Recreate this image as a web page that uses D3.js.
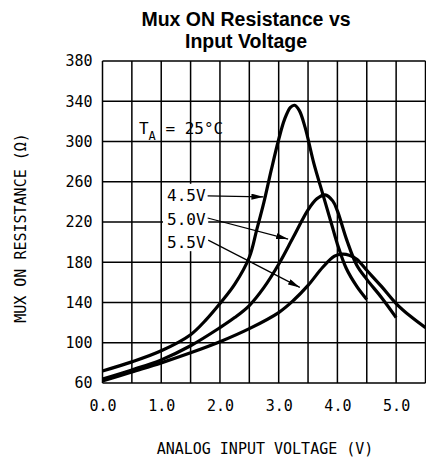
<!DOCTYPE html>
<html>
<head>
<meta charset="utf-8">
<script src="https://cdn.jsdelivr.net/npm/d3@7"></script>
<style>
  html, body { margin: 0; padding: 0; background: #fff; }
  svg { display: block; }
  .lbl { font-family: "DejaVu Sans Mono", monospace; font-size: 15px; fill: #000; }
  .title { font-family: "Liberation Sans", Arial, sans-serif; font-weight: bold; font-size: 19.5px; fill: #000; }
</style>
</head>
<body>
<svg id="chart" width="426" height="460"></svg>
<script>
// ---- data ----
const xTicks = [0, 1, 2, 3, 4, 5];
const xTickLabels = ["0.0", "1.0", "2.0", "3.0", "4.0", "5.0"];
const xGrid = [0, 0.5, 1, 1.5, 2, 2.5, 3, 3.5, 4, 4.5, 5, 5.5];
const yTicks = [60, 100, 140, 180, 220, 260, 300, 340, 380];

const volts45 = [0, 0.5, 1.0, 1.5, 1.75, 2.0, 2.25, 2.5, 2.625, 2.75, 2.875, 3.0, 3.1, 3.2, 3.27, 3.35, 3.45, 3.6, 3.75, 3.9, 4.0, 4.15, 4.33, 4.5];
const ohms45  = [72, 81, 92, 108, 122, 139, 158, 185, 212, 240, 272, 302, 322, 334, 336, 331, 314, 278, 248, 218, 198, 174, 156, 143];

const volts50 = [0, 0.5, 1.0, 1.5, 2.0, 2.25, 2.5, 2.75, 3.0, 3.25, 3.5, 3.65, 3.79, 3.92, 4.0, 4.16, 4.33, 4.5, 4.75, 5.0];
const ohms50  = [64, 73, 83, 97, 115, 125, 137, 155, 178, 205, 232, 243, 247, 241, 231, 202, 177, 163, 145, 125];

const volts55 = [0, 0.5, 1.0, 1.5, 2.0, 2.5, 3.0, 3.25, 3.5, 3.75, 3.95, 4.08, 4.2, 4.33, 4.5, 4.75, 5.0, 5.25, 5.5];
const ohms55  = [62, 71, 80, 90, 101, 114, 130, 142, 157, 175, 186, 188, 187, 183, 172, 156, 139, 126, 115];

const seriesNames = ["4.5V", "5.0V", "5.5V"];
// label anchor (volts, ohms at baseline) and arrow from -> to, in data units
const labelPos   = [[1.10, 240.5], [1.10, 217], [1.10, 194.5]];
const arrowFrom  = [[1.79, 246], [1.79, 224], [1.80, 202]];
const arrowTo    = [[2.74, 245], [3.16, 203], [3.36, 155]];

const title = ["Mux ON Resistance vs", "Input Voltage"];
const xTitle = "ANALOG INPUT VOLTAGE (V)";
const yTitle = "MUX ON RESISTANCE (\u03A9)";

// ---- scales ----
const svg = d3.select("#chart");
const x = d3.scaleLinear().domain([0, 5.5]).range([102.5, 425.5]);
const y = d3.scaleLinear().domain([60, 380]).range([383, 61]);

// title
svg.append("text").attr("class", "title").attr("text-anchor", "middle")
  .attr("x", 246).attr("y", 25.5).text(title[0]);
svg.append("text").attr("class", "title").attr("text-anchor", "middle")
  .attr("x", 246).attr("y", 47.5).text(title[1]);

// grid
const g = svg.append("g");
g.selectAll("line.v").data(xGrid).enter().append("line")
  .attr("x1", d => x(d)).attr("x2", d => x(d))
  .attr("y1", y(380)).attr("y2", y(60))
  .attr("stroke", "#000").attr("stroke-width", 1.5);
g.selectAll("line.h").data(yTicks).enter().append("line")
  .attr("x1", x(0)).attr("x2", x(5.5))
  .attr("y1", d => y(d)).attr("y2", d => y(d))
  .attr("stroke", "#000").attr("stroke-width", 1.5);

// white box behind series labels
svg.append("rect")
  .attr("x", x(1.03)).attr("y", y(258))
  .attr("width", x(1.80) - x(1.03)).attr("height", y(193) - y(258) + 2)
  .attr("fill", "#fff");

// axes tick labels
const yAxis = d3.axisLeft(y).tickValues(yTicks).tickSize(0).tickPadding(10);
svg.append("g").attr("transform", `translate(${x(0)},0)`).call(yAxis)
  .call(s => s.select(".domain").remove())
  .selectAll("text").attr("class", "lbl").attr("font-family", null).attr("font-size", null);

const xAxis = d3.axisBottom(x).tickValues(xTicks).tickFormat((d, i) => xTickLabels[i]).tickSize(0).tickPadding(17);
svg.append("g").attr("transform", `translate(0,${y(60)})`).call(xAxis)
  .call(s => s.select(".domain").remove())
  .selectAll("text").attr("class", "lbl").attr("font-family", null).attr("font-size", null);

// axis titles
svg.append("text").attr("class", "lbl").attr("text-anchor", "middle")
  .attr("x", 265).attr("y", 454).text(xTitle);
svg.append("text").attr("class", "lbl").attr("text-anchor", "middle")
  .attr("transform", "translate(26,228) rotate(-90)").text(yTitle);

// curves
const line = d3.line().x(d => x(d[0])).y(d => y(d[1])).curve(d3.curveCatmullRom.alpha(0.5));
const series = [
  d3.zip(volts45, ohms45),
  d3.zip(volts50, ohms50),
  d3.zip(volts55, ohms55)
];
svg.selectAll("path.curve").data(series).enter().append("path")
  .attr("d", line).attr("fill", "none").attr("stroke", "#000")
  .attr("stroke-width", 3.2).attr("stroke-linejoin", "round").attr("stroke-linecap", "butt");

// T_A label
const ta = svg.append("text").attr("class", "lbl").attr("x", x(0.62)).attr("y", y(307)).style("font-size", "16px");
ta.append("tspan").text("T");
ta.append("tspan").attr("dy", 6).style("font-size", "12px").text("A");
ta.append("tspan").attr("dy", -6).text(" = 25\u00B0C");

// series labels
svg.selectAll("text.sl").data(seriesNames).enter().append("text")
  .attr("class", "lbl").style("font-size", "16px")
  .attr("x", (d, i) => x(labelPos[i][0])).attr("y", (d, i) => y(labelPos[i][1]))
  .text(d => d);

// arrows
svg.append("defs").append("marker").attr("id", "ah")
  .attr("viewBox", "0 0 12 6").attr("refX", 12).attr("refY", 3)
  .attr("markerWidth", 12).attr("markerHeight", 6).attr("markerUnits", "userSpaceOnUse")
  .attr("orient", "auto")
  .append("path").attr("d", "M0,0 L12,3 L0,6 Z").attr("fill", "#000");
svg.selectAll("line.arr").data(arrowFrom).enter().append("line")
  .attr("x1", d => x(d[0])).attr("y1", d => y(d[1]))
  .attr("x2", (d, i) => x(arrowTo[i][0])).attr("y2", (d, i) => y(arrowTo[i][1]))
  .attr("stroke", "#000").attr("stroke-width", 1.2).attr("marker-end", "url(#ah)");
</script>
</body>
</html>
